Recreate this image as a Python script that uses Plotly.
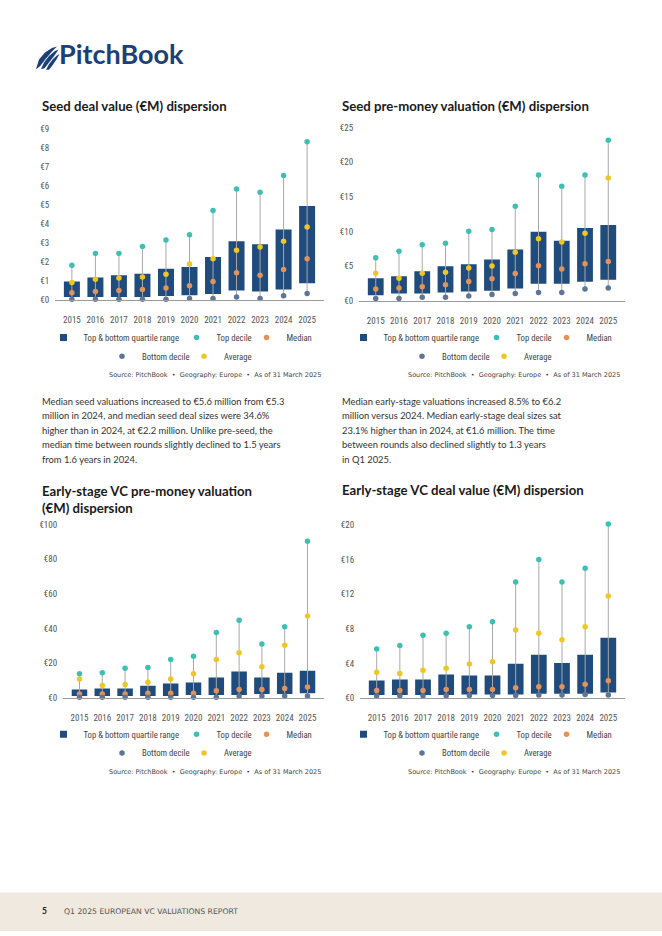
import plotly.graph_objects as go

W, H = 662, 936

def px(x):
    return x / W

def py(y):
    return 1 - y / H

years = [str(y) for y in range(2015, 2026)]

# Chart 1: Seed deal value (€M)
c1_q1 = [0.17, 0.17, 0.17, 0.17, 0.22, 0.27, 0.33, 0.52, 0.46, 0.57, 0.89]
c1_q3 = [0.98, 1.19, 1.31, 1.39, 1.65, 1.75, 2.27, 3.09, 2.94, 3.71, 4.95]
c1_top = [1.84, 2.46, 2.46, 2.82, 3.16, 3.44, 4.71, 5.84, 5.67, 6.55, 8.32]
c1_med = [0.40, 0.46, 0.52, 0.57, 0.64, 0.76, 0.98, 1.44, 1.32, 1.62, 2.18]
c1_bot = [0.05, 0.05, 0.05, 0.05, 0.05, 0.10, 0.10, 0.17, 0.10, 0.24, 0.36]
c1_avg = [0.93, 1.10, 1.17, 1.22, 1.36, 1.91, 2.18, 2.63, 2.80, 3.09, 3.85]

# Chart 2: Seed pre-money valuation (€M)
c2_q1 = [0.81, 1.04, 1.04, 1.19, 1.33, 1.47, 1.76, 2.47, 2.47, 2.75, 3.04]
c2_q3 = [3.27, 3.56, 4.27, 4.98, 5.27, 5.98, 7.40, 9.96, 8.68, 10.53, 10.96]
c2_top = [6.21, 7.16, 8.11, 8.30, 10.06, 10.29, 13.66, 18.17, 16.56, 18.17, 23.20]
c2_med = [1.71, 1.85, 2.04, 2.32, 2.80, 3.18, 3.94, 5.08, 4.60, 5.36, 5.69]
c2_bot = [0.33, 0.33, 0.52, 0.52, 0.71, 0.90, 1.04, 1.19, 1.19, 1.71, 1.85]
c2_avg = [3.98, 3.27, 3.98, 4.13, 4.74, 5.03, 7.02, 8.97, 8.49, 9.77, 17.74]

# Chart 3: Early-stage VC pre-money valuation (€M)
c3_q1 = [1.1, 1.1, 1.1, 1.1, 1.1, 1.7, 1.7, 1.7, 2.3, 2.3, 2.8]
c3_q3 = [4.9, 5.5, 5.5, 7.0, 8.3, 8.9, 11.8, 15.2, 11.8, 14.6, 15.7]
c3_top = [14.0, 14.6, 17.1, 17.6, 22.2, 24.1, 37.8, 44.8, 31.1, 41.0, 90.3]
c3_med = [2.3, 2.3, 2.3, 2.7, 2.7, 2.8, 4.2, 4.9, 4.9, 5.5, 6.3]
c3_bot = [0.4, 0.4, 0.4, 0.4, 0.4, 0.4, 0.4, 1.1, 1.1, 1.1, 1.1]
c3_avg = [11.0, 7.2, 7.8, 9.1, 11.0, 14.0, 22.2, 26.0, 18.0, 30.4, 47.2]

# Chart 4: Early-stage VC deal value (€M)
c4_q1 = [0.35, 0.35, 0.35, 0.35, 0.40, 0.40, 0.40, 0.50, 0.50, 0.50, 0.65]
c4_q3 = [2.02, 2.14, 2.14, 2.71, 2.60, 2.60, 3.97, 5.00, 4.05, 5.00, 6.95]
c4_top = [5.65, 6.07, 7.25, 7.48, 8.24, 8.82, 13.40, 15.99, 13.40, 15.00, 20.11]
c4_med = [0.88, 0.88, 0.88, 0.99, 0.99, 0.99, 1.18, 1.30, 1.30, 1.60, 1.98]
c4_bot = [0.25, 0.25, 0.25, 0.25, 0.28, 0.28, 0.30, 0.35, 0.35, 0.40, 0.34]
c4_avg = [2.98, 2.82, 3.21, 3.44, 3.93, 4.20, 7.86, 7.48, 6.72, 8.24, 11.79]

titles = [
    "Seed deal value (€M) dispersion",
    "Seed pre-money valuation (€M) dispersion",
    "Early-stage VC pre-money valuation<br>(€M) dispersion",
    "Early-stage VC deal value (€M) dispersion",
]
legend_names = ["Top & bottom quartile range", "Top decile", "Median", "Bottom decile", "Average"]
source_text = "Source: PitchBook  •  Geography: Europe  •  As of 31 March 2025"

# y0: pixel row of €0, ytop: pixel row of the last labelled tick (tmax)
charts = [
    dict(q1=c1_q1, q3=c1_q3, top=c1_top, med=c1_med, bot=c1_bot, avg=c1_avg,
         tmax=9, rmax=9, dtick=1, xd=[55, 324], y0=298.5, ytop=125, title_y=102, sub_left=40, sub_right=323,
         leg1=336, leg2=355, src_y=374, legc=181),
    dict(q1=c2_q1, q3=c2_q3, top=c2_top, med=c2_med, bot=c2_bot, avg=c2_avg,
         tmax=25, rmax=25, dtick=5, xd=[359, 625], y0=299, ytop=124, title_y=102, sub_left=340, sub_right=622,
         leg1=336, leg2=355, src_y=374, legc=481),
    dict(q1=c3_q1, q3=c3_q3, top=c3_top, med=c3_med, bot=c3_bot, avg=c3_avg,
         tmax=100, rmax=100, dtick=20, xd=[63, 324], y0=700.5, ytop=525, title_y=None, sub_left=40, sub_right=323,
         leg1=737, leg2=756, src_y=775, legc=181),
    dict(q1=c4_q1, q3=c4_q3, top=c4_top, med=c4_med, bot=c4_bot, avg=c4_avg,
         tmax=20, rmax=20.4, dtick=4, xd=[360, 625], y0=700.5, ytop=525.5, title_y=490, sub_left=340, sub_right=622,
         leg1=737, leg2=756, src_y=775, legc=481),
]

BOX = "#1f4b7d"
TOPC = "#3cc0b4"
MEDC = "#e3925a"
BOTC = "#5f7595"
AVGC = "#f0c623"
WHISK = "#a9a9a9"
FONT = "Lato"
NARROW = "Liberation Sans Narrow, Roboto Condensed, Lato"

fig = go.Figure()
layout = dict(
    width=W, height=H, margin=dict(l=0, r=0, t=0, b=0),
    paper_bgcolor="white", plot_bgcolor="white",
    font=dict(family=FONT, color="#444"),
    showlegend=True,
)
annotations = []
shapes = []

# per-entry legend widths (pixels) to tighten spacing
LW = [88, 25, 27, 37, 31]

for i, c in enumerate(charts):
    n = i + 1
    xa = "x" if n == 1 else f"x{n}"
    ya = "y" if n == 1 else f"y{n}"
    lg1 = "legend" if n == 1 else f"legend{2*n-1}"
    lg2 = f"legend{2*n}"
    # whiskers (bottom decile to top decile)
    wx, wy = [], []
    for yr, b, t in zip(years, c["bot"], c["top"]):
        wx += [yr, yr, None]
        wy += [b, t, None]
    fig.add_trace(go.Scatter(x=wx, y=wy, mode="lines", line=dict(color=WHISK, width=1),
                             showlegend=False, hoverinfo="skip", xaxis=xa, yaxis=ya, cliponaxis=False))
    # quartile box
    fig.add_trace(go.Bar(x=years, y=[t - b for t, b in zip(c["q3"], c["q1"])], base=c["q1"],
                         marker=dict(color=BOX, line=dict(width=0)), width=0.68,
                         showlegend=False, xaxis=xa, yaxis=ya))
    # legend proxy for the box
    fig.add_trace(go.Scatter(x=[None], y=[None], mode="markers", name=legend_names[0],
                             marker=dict(symbol="square", size=7, color=BOX),
                             legend=lg1, legendwidth=LW[0], xaxis=xa, yaxis=ya))
    specs = [
        (c["top"], legend_names[1], TOPC, lg1, LW[1]),
        (c["med"], legend_names[2], MEDC, lg1, LW[2]),
        (c["bot"], legend_names[3], BOTC, lg2, LW[3]),
        (c["avg"], legend_names[4], AVGC, lg2, LW[4]),
    ]
    for vals, name, col, lg, lw in specs:
        fig.add_trace(go.Scatter(x=years, y=vals, mode="markers", name=name,
                                 marker=dict(size=5.5, color=col), legend=lg, legendwidth=lw,
                                 xaxis=xa, yaxis=ya, cliponaxis=False))
    xkey = "xaxis" if n == 1 else f"xaxis{n}"
    ykey = "yaxis" if n == 1 else f"yaxis{n}"
    pxu = (c["y0"] - c["ytop"]) / c["tmax"]
    dom_top = c["y0"] - pxu * c["rmax"]
    layout[xkey] = dict(
        domain=[px(c["xd"][0]), px(c["xd"][1])], anchor=ya, type="category",
        showline=True, linecolor="#9a9a9a", linewidth=1, showgrid=False, zeroline=False,
        ticks="outside", ticklen=11, tickcolor="rgba(0,0,0,0)",
        tickfont=dict(size=9, color="#555", family=NARROW), fixedrange=True,
    )
    layout[ykey] = dict(
        domain=[py(c["y0"]), py(dom_top)], anchor=xa, range=[0, c["rmax"]],
        tickmode="linear", tick0=0, dtick=c["dtick"],
        tickprefix="€", showgrid=False, zeroline=False, showline=False,
        ticks="outside", ticklen=3, tickcolor="rgba(0,0,0,0)",
        tickfont=dict(size=9, color="#555", family=NARROW), fixedrange=True,
    )
    for lg, yy in ((lg1, c["leg1"]), (lg2, c["leg2"])):
        layout[lg] = dict(orientation="h", x=px(c["legc"]), xanchor="center", y=py(yy),
                          yanchor="middle", font=dict(size=8.7, color="#444", family=NARROW),
                          bgcolor="rgba(0,0,0,0)", itemwidth=30, traceorder="normal")
    # title
    if c["title_y"] is not None:
        annotations.append(dict(text=f"<b>{titles[i]}</b>", x=px(c["sub_left"]), y=py(c["title_y"]),
                                xref="paper", yref="paper", xanchor="left", yanchor="middle",
                                showarrow=False, font=dict(size=13.2, color="#1a1a1a", family=FONT), align="left"))
    else:
        annotations.append(dict(text=f"<b>{titles[i]}</b>", x=px(c["sub_left"]), y=py(481.5),
                                xref="paper", yref="paper", xanchor="left", yanchor="top",
                                showarrow=False, font=dict(size=13.2, color="#1a1a1a", family=FONT), align="left"))
    annotations.append(dict(text=source_text, x=px(c["sub_right"]), y=py(c["src_y"]),
                            xref="paper", yref="paper", xanchor="right", yanchor="middle",
                            showarrow=False, font=dict(size=6.5, color="#444", family="DejaVu Sans")))

# paragraphs
para_left = [
    "Median seed valuations increased to €5.6 million from €5.3",
    "million in 2024, and median seed deal sizes were 34.6%",
    "higher than in 2024, at €2.2 million. Unlike pre-seed, the",
    "median time between rounds slightly declined to 1.5 years",
    "from 1.6 years in 2024.",
]
para_right = [
    "Median early-stage valuations increased 8.5% to €6.2",
    "million versus 2024. Median early-stage deal sizes sat",
    "23.1% higher than in 2024, at €1.6 million. The time",
    "between rounds also declined slightly to 1.3 years",
    "in Q1 2025.",
]
for k, (l, r) in enumerate(zip(para_left, para_right)):
    yy = 400.5 + k * 14.7
    annotations.append(dict(text=l, x=px(40), y=py(yy), xref="paper", yref="paper", xanchor="left",
                            yanchor="middle", showarrow=False, font=dict(size=9.4, color="#333", family=FONT)))
    annotations.append(dict(text=r, x=px(340), y=py(yy), xref="paper", yref="paper", xanchor="left",
                            yanchor="middle", showarrow=False, font=dict(size=9.4, color="#333", family=FONT)))

# logo text
annotations.append(dict(text="<b>PitchBook</b>", x=px(57), y=py(49.5), xref="paper", yref="paper",
                        xanchor="left", yanchor="middle", showarrow=False,
                        font=dict(size=27, color="#1d3f77", family=FONT)))

def path(pts):
    return "M " + " L ".join(f"{px(a):.5f},{py(b):.5f}" for a, b in pts) + " Z"

# logo wing icon (three feathers)
feathers = [
    [(36, 65), (39, 55), (45, 48), (52, 43.5), (57, 42), (52, 47), (46, 54), (40, 62)],
    [(41, 65), (44, 58), (49, 51.5), (55, 46.5), (58.5, 45), (54.5, 51), (49, 58), (44.5, 64)],
    [(46, 65.5), (49, 60), (53, 54.5), (57, 51), (59.5, 49.5), (56.5, 55), (52.5, 61), (49, 65.5)],
]
for f in feathers:
    shapes.append(dict(type="path", path=path(f), xref="paper", yref="paper",
                       fillcolor="#1d3f77", line=dict(width=0)))

# footer band
shapes.append(dict(type="rect", x0=0, x1=1, y0=0, y1=py(897), xref="paper", yref="paper",
                   fillcolor="#efe9df", line=dict(width=0), layer="below"))
annotations.append(dict(text="<b>5</b>", x=px(40), y=py(916), xref="paper", yref="paper",
                        xanchor="left", yanchor="middle", showarrow=False,
                        font=dict(size=8.5, color="#222", family=FONT)))
annotations.append(dict(text="Q1 2025 EUROPEAN VC VALUATIONS REPORT", x=px(62), y=py(916.5),
                        xref="paper", yref="paper", xanchor="left", yanchor="middle", showarrow=False,
                        font=dict(size=7.7, color="#555", family="DejaVu Sans")))

layout["annotations"] = annotations
layout["shapes"] = shapes
fig.update_layout(**layout)
fig.write_html("out.html", config={"displayModeBar": False},
               post_script="document.body.style.margin='0';document.body.style.overflow='hidden';")
